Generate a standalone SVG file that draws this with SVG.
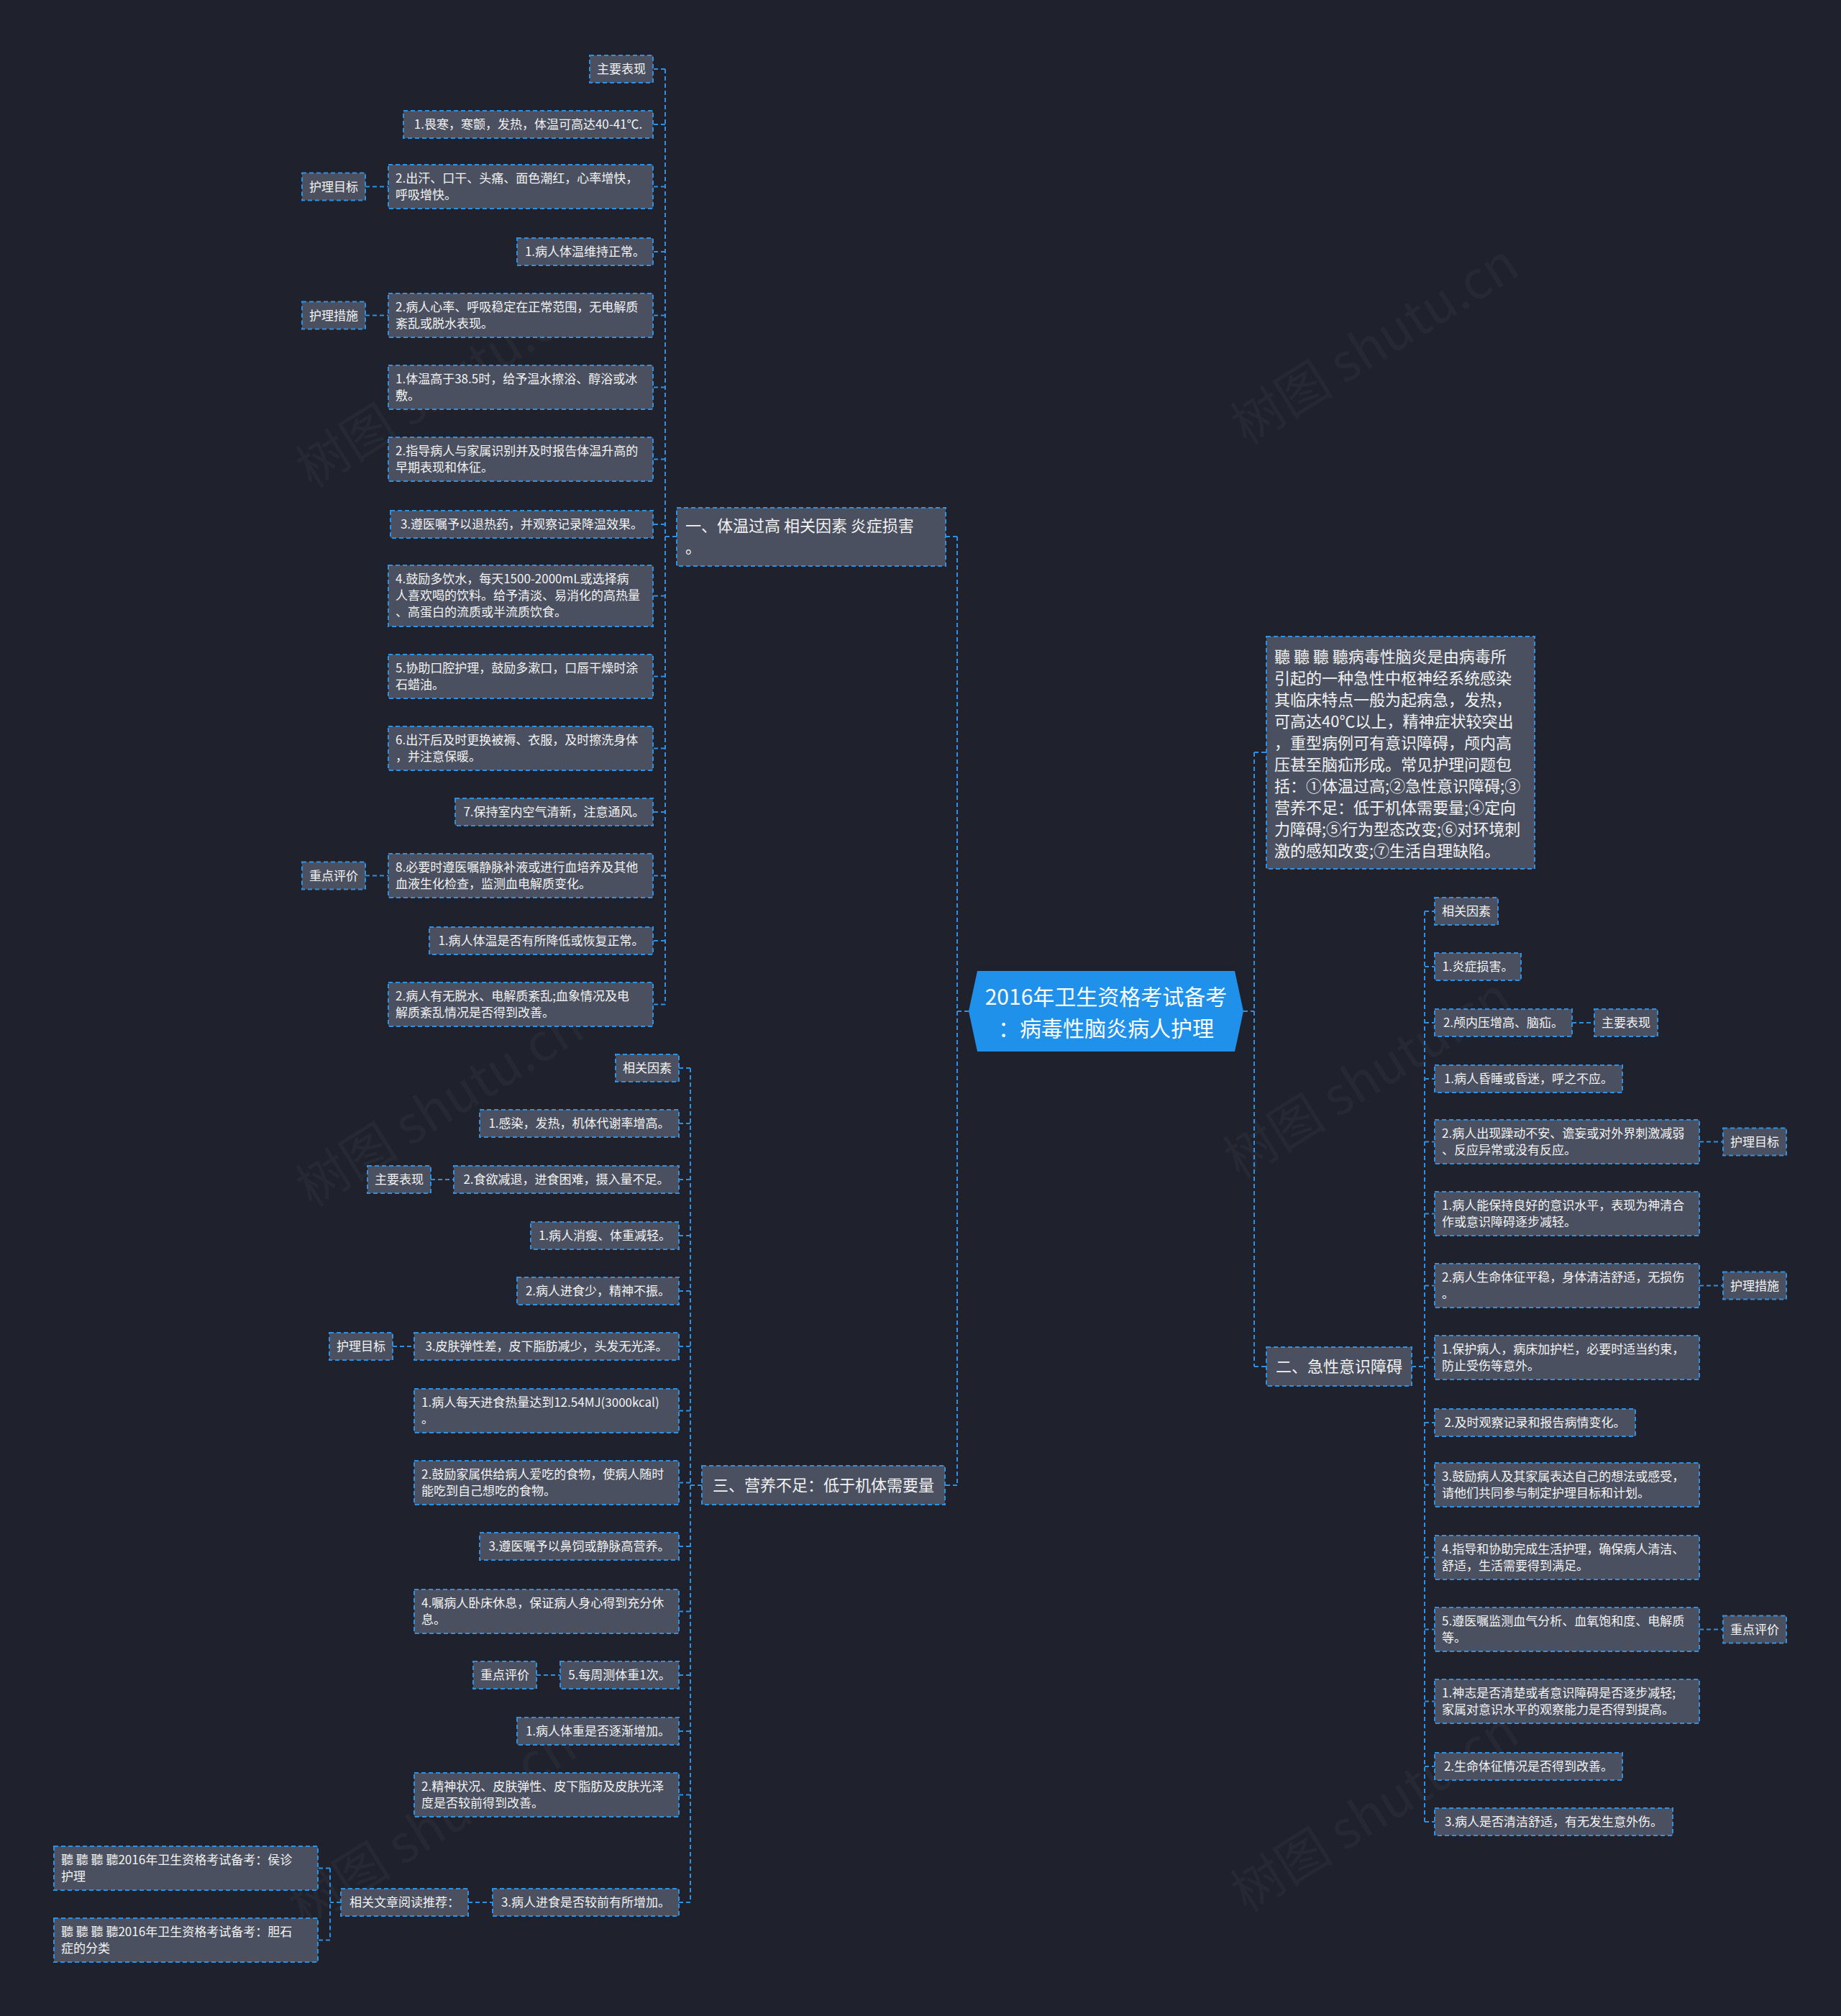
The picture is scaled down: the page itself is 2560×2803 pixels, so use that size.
<svg xmlns="http://www.w3.org/2000/svg" width="2560" height="2803" viewBox="0 0 2560 2803">
<style>
.bg{fill:#1f222c}
.box{fill:#4a5060;stroke:#2f8fe0;stroke-width:2;stroke-dasharray:6 4}
.t{font-family:"Noto Sans CJK SC","Noto Sans",sans-serif;font-size:17px;fill:#f2f2f2}
.m{text-anchor:middle}
.b{font-size:22px}
.c{font-family:"Noto Sans CJK SC","Noto Sans",sans-serif;font-size:30px;fill:#ffffff;text-anchor:middle}
.conn{fill:none;stroke:#2f8fe0;stroke-width:2;stroke-dasharray:6 4}
.wm{font-family:"Noto Sans CJK SC","Noto Sans",sans-serif;font-size:72px;fill:#ffffff;fill-opacity:0.035;text-anchor:middle}
</style>
<rect class="bg" x="0" y="0" width="2560" height="2803"/>
<g id="watermarks">
<text class="wm" transform="translate(625 560) rotate(-32)">树图 shutu.cn</text>
<text class="wm" transform="translate(1925 500) rotate(-32)">树图 shutu.cn</text>
<text class="wm" transform="translate(625 1560) rotate(-32)">树图 shutu.cn</text>
<text class="wm" transform="translate(1915 1520) rotate(-32)">树图 shutu.cn</text>
<text class="wm" transform="translate(615 2560) rotate(-32)">树图 shutu.cn</text>
<text class="wm" transform="translate(1925 2540) rotate(-32)">树图 shutu.cn</text>
</g>
<g id="connectors">
<path class="conn" d="M1347 1406H1331M1331 746V2065M1331 746H1315M1331 2065H1314"/>
<path class="conn" d="M1729 1406H1744M1744 1046V1900M1744 1046H1761M1744 1900H1761"/>
<path class="conn" d="M941 746H925M925 96V1396.5M925 96H908M925 173H908M925 259.5H908M925 350H908M925 438.5H908M925 538.5H908M925 638.5H908M925 729H908M925 828.5H908M925 940.5H908M925 1040.5H908M925 1129H908M925 1217.5H908M925 1308H908M925 1396.5H908"/>
<path class="conn" d="M508 259.5H540M508 438.5H540M508 1217.5H540"/>
<path class="conn" d="M1963 1900H1981M1981 1267V2533M1981 1267H1995M1981 1344H1995M1981 1422H1995M1981 1500H1995M1981 1587.5H1995M1981 1687.5H1995M1981 1787.5H1995M1981 1887.5H1995M1981 1978H1995M1981 2064.5H1995M1981 2165.5H1995M1981 2265.5H1995M1981 2365.5H1995M1981 2456H1995M1981 2533H1995"/>
<path class="conn" d="M2186 1422H2217M2363 1587.5H2396M2363 1787.5H2396M2363 2265.5H2396"/>
<path class="conn" d="M976 2065H960M960 1485V2645M960 1485H944M960 1562H944M960 1640H944M960 1718H944M960 1795H944M960 1872H944M960 1961.5H944M960 2061.5H944M960 2150H944M960 2240.5H944M960 2329H944M960 2407H944M960 2495.5H944M960 2645H944"/>
<path class="conn" d="M599 1640H631M546 1872H576M746 2329H779M651 2645H685M474 2645H459M459 2597.5V2697.5M459 2597.5H442M459 2697.5H442"/>
</g>
<g id="center">
<polygon points="1347,1406 1359,1350 1717,1350 1729,1406 1717,1462 1359,1462" fill="#2091ea"/>
<text class="c" x="1538" y="1397">2016年卫生资格考试备考</text>
<text class="c" x="1538" y="1441">：病毒性脑炎病人护理</text>
</g>
<g id="branch1">
<rect class="box" x="941" y="706" width="374" height="81"/>
<text class="t b" x="953" y="739">一、体温过高 相关因素 炎症损害</text>
<text class="t b" x="953" y="769">。</text>
</g>
<g id="branch2">
<rect class="box" x="1761" y="1873" width="202" height="54"/>
<text class="t b" x="1774" y="1908">二、急性意识障碍</text>
</g>
<g id="branch3">
<rect class="box" x="976" y="2038" width="338" height="54"/>
<text class="t b" x="991" y="2073">三、营养不足：低于机体需要量</text>
</g>
<g id="desc">
<rect class="box" x="1761" y="885" width="373" height="323"/>
<text class="t b" x="1772" y="921">聽 聽 聽 聽病毒性脑炎是由病毒所</text>
<text class="t b" x="1772" y="951">引起的一种急性中枢神经系统感染</text>
<text class="t b" x="1772" y="981">其临床特点一般为起病急，发热，</text>
<text class="t b" x="1772" y="1011">可高达40℃以上，精神症状较突出</text>
<text class="t b" x="1772" y="1041">，重型病例可有意识障碍，颅内高</text>
<text class="t b" x="1772" y="1071">压甚至脑疝形成。常见护理问题包</text>
<text class="t b" x="1772" y="1101">括：①体温过高;②急性意识障碍;③</text>
<text class="t b" x="1772" y="1131">营养不足：低于机体需要量;④定向</text>
<text class="t b" x="1772" y="1161">力障碍;⑤行为型态改变;⑥对环境刺</text>
<text class="t b" x="1772" y="1191">激的感知改变;⑦生活自理缺陷。</text>
</g>
<g id="n1_1"><rect class="box" x="820" y="77" width="88" height="38"/><text class="t m" x="864" y="102">主要表现</text></g>
<g id="n1_2"><rect class="box" x="561" y="154" width="347" height="38"/><text class="t m" x="734.5" y="179">1.畏寒，寒颤，发热，体温可高达40-41℃.</text></g>
<g id="n1_3"><rect class="box" x="540" y="229" width="368" height="61"/><text class="t" x="550" y="254">2.出汗、口干、头痛、面色潮红，心率增快，</text><text class="t" x="550" y="277">呼吸增快。</text></g>
<g id="n1_3l"><rect class="box" x="420" y="240.5" width="88" height="38"/><text class="t m" x="464" y="265.5">护理目标</text></g>
<g id="n1_4"><rect class="box" x="719" y="331" width="189" height="38"/><text class="t m" x="813.5" y="356">1.病人体温维持正常。</text></g>
<g id="n1_5"><rect class="box" x="540" y="408" width="368" height="61"/><text class="t" x="550" y="433">2.病人心率、呼吸稳定在正常范围，无电解质</text><text class="t" x="550" y="456">紊乱或脱水表现。</text></g>
<g id="n1_5l"><rect class="box" x="420" y="419.5" width="88" height="38"/><text class="t m" x="464" y="444.5">护理措施</text></g>
<g id="n1_6"><rect class="box" x="540" y="508" width="368" height="61"/><text class="t" x="550" y="533">1.体温高于38.5时，给予温水擦浴、醇浴或冰</text><text class="t" x="550" y="556">敷。</text></g>
<g id="n1_7"><rect class="box" x="540" y="608" width="368" height="61"/><text class="t" x="550" y="633">2.指导病人与家属识别并及时报告体温升高的</text><text class="t" x="550" y="656">早期表现和体征。</text></g>
<g id="n1_8"><rect class="box" x="543" y="710" width="365" height="38"/><text class="t m" x="725.5" y="735">3.遵医嘱予以退热药，并观察记录降温效果。</text></g>
<g id="n1_9"><rect class="box" x="540" y="786" width="368" height="85"/><text class="t" x="550" y="811">4.鼓励多饮水，每天1500-2000mL或选择病</text><text class="t" x="550" y="834">人喜欢喝的饮料。给予清淡、易消化的高热量</text><text class="t" x="550" y="857">、高蛋白的流质或半流质饮食。</text></g>
<g id="n1_10"><rect class="box" x="540" y="910" width="368" height="61"/><text class="t" x="550" y="935">5.协助口腔护理，鼓励多漱口，口唇干燥时涂</text><text class="t" x="550" y="958">石蜡油。</text></g>
<g id="n1_11"><rect class="box" x="540" y="1010" width="368" height="61"/><text class="t" x="550" y="1035">6.出汗后及时更换被褥、衣服，及时擦洗身体</text><text class="t" x="550" y="1058">，并注意保暖。</text></g>
<g id="n1_12"><rect class="box" x="633" y="1110" width="275" height="38"/><text class="t m" x="770.5" y="1135">7.保持室内空气清新，注意通风。</text></g>
<g id="n1_13"><rect class="box" x="540" y="1187" width="368" height="61"/><text class="t" x="550" y="1212">8.必要时遵医嘱静脉补液或进行血培养及其他</text><text class="t" x="550" y="1235">血液生化检查，监测血电解质变化。</text></g>
<g id="n1_13l"><rect class="box" x="420" y="1198.5" width="88" height="38"/><text class="t m" x="464" y="1223.5">重点评价</text></g>
<g id="n1_14"><rect class="box" x="597" y="1289" width="311" height="38"/><text class="t m" x="752.5" y="1314">1.病人体温是否有所降低或恢复正常。</text></g>
<g id="n1_15"><rect class="box" x="540" y="1366" width="368" height="61"/><text class="t" x="550" y="1391">2.病人有无脱水、电解质紊乱;血象情况及电</text><text class="t" x="550" y="1414">解质紊乱情况是否得到改善。</text></g>
<g id="n2_1"><rect class="box" x="1995" y="1248" width="88" height="38"/><text class="t m" x="2039" y="1273">相关因素</text></g>
<g id="n2_2"><rect class="box" x="1995" y="1325" width="120" height="38"/><text class="t m" x="2055" y="1350">1.炎症损害。</text></g>
<g id="n2_3"><rect class="box" x="1995" y="1403" width="191" height="38"/><text class="t m" x="2090.5" y="1428">2.颅内压增高、脑疝。</text></g>
<g id="n2_3l"><rect class="box" x="2217" y="1403" width="88" height="38"/><text class="t m" x="2261" y="1428">主要表现</text></g>
<g id="n2_4"><rect class="box" x="1995" y="1481" width="261" height="38"/><text class="t m" x="2125.5" y="1506">1.病人昏睡或昏迷，呼之不应。</text></g>
<g id="n2_5"><rect class="box" x="1995" y="1557" width="368" height="61"/><text class="t" x="2005" y="1582">2.病人出现躁动不安、谵妄或对外界刺激减弱</text><text class="t" x="2005" y="1605">、反应异常或没有反应。</text></g>
<g id="n2_5l"><rect class="box" x="2396" y="1568.5" width="88" height="38"/><text class="t m" x="2440" y="1593.5">护理目标</text></g>
<g id="n2_6"><rect class="box" x="1995" y="1657" width="368" height="61"/><text class="t" x="2005" y="1682">1.病人能保持良好的意识水平，表现为神清合</text><text class="t" x="2005" y="1705">作或意识障碍逐步减轻。</text></g>
<g id="n2_7"><rect class="box" x="1995" y="1757" width="368" height="61"/><text class="t" x="2005" y="1782">2.病人生命体征平稳，身体清洁舒适，无损伤</text><text class="t" x="2005" y="1805">。</text></g>
<g id="n2_7l"><rect class="box" x="2396" y="1768.5" width="88" height="38"/><text class="t m" x="2440" y="1793.5">护理措施</text></g>
<g id="n2_8"><rect class="box" x="1995" y="1857" width="368" height="61"/><text class="t" x="2005" y="1882">1.保护病人，病床加护栏，必要时适当约束，</text><text class="t" x="2005" y="1905">防止受伤等意外。</text></g>
<g id="n2_9"><rect class="box" x="1995" y="1959" width="279" height="38"/><text class="t m" x="2134.5" y="1984">2.及时观察记录和报告病情变化。</text></g>
<g id="n2_10"><rect class="box" x="1995" y="2034" width="368" height="61"/><text class="t" x="2005" y="2059">3.鼓励病人及其家属表达自己的想法或感受，</text><text class="t" x="2005" y="2082">请他们共同参与制定护理目标和计划。</text></g>
<g id="n2_11"><rect class="box" x="1995" y="2135" width="368" height="61"/><text class="t" x="2005" y="2160">4.指导和协助完成生活护理，确保病人清洁、</text><text class="t" x="2005" y="2183">舒适，生活需要得到满足。</text></g>
<g id="n2_12"><rect class="box" x="1995" y="2235" width="368" height="61"/><text class="t" x="2005" y="2260">5.遵医嘱监测血气分析、血氧饱和度、电解质</text><text class="t" x="2005" y="2283">等。</text></g>
<g id="n2_12l"><rect class="box" x="2396" y="2246.5" width="88" height="38"/><text class="t m" x="2440" y="2271.5">重点评价</text></g>
<g id="n2_13"><rect class="box" x="1995" y="2335" width="368" height="61"/><text class="t" x="2005" y="2360">1.神志是否清楚或者意识障碍是否逐步减轻;</text><text class="t" x="2005" y="2383">家属对意识水平的观察能力是否得到提高。</text></g>
<g id="n2_14"><rect class="box" x="1995" y="2437" width="261" height="38"/><text class="t m" x="2125.5" y="2462">2.生命体征情况是否得到改善。</text></g>
<g id="n2_15"><rect class="box" x="1995" y="2514" width="331" height="38"/><text class="t m" x="2160.5" y="2539">3.病人是否清洁舒适，有无发生意外伤。</text></g>
<g id="n3_1"><rect class="box" x="856" y="1466" width="88" height="38"/><text class="t m" x="900" y="1491">相关因素</text></g>
<g id="n3_2"><rect class="box" x="667" y="1543" width="277" height="38"/><text class="t m" x="805.5" y="1568">1.感染，发热，机体代谢率增高。</text></g>
<g id="n3_3"><rect class="box" x="631" y="1621" width="313" height="38"/><text class="t m" x="787.5" y="1646">2.食欲减退，进食困难，摄入量不足。</text></g>
<g id="n3_3l"><rect class="box" x="511" y="1621" width="88" height="38"/><text class="t m" x="555" y="1646">主要表现</text></g>
<g id="n3_4"><rect class="box" x="738" y="1699" width="206" height="38"/><text class="t m" x="841" y="1724">1.病人消瘦、体重减轻。</text></g>
<g id="n3_5"><rect class="box" x="719" y="1776" width="225" height="38"/><text class="t m" x="831.5" y="1801">2.病人进食少，精神不振。</text></g>
<g id="n3_6"><rect class="box" x="576" y="1853" width="368" height="38"/><text class="t m" x="760" y="1878">3.皮肤弹性差，皮下脂肪减少，头发无光泽。</text></g>
<g id="n3_6l"><rect class="box" x="458" y="1853" width="88" height="38"/><text class="t m" x="502" y="1878">护理目标</text></g>
<g id="n3_7"><rect class="box" x="576" y="1931" width="368" height="61"/><text class="t" x="586" y="1956">1.病人每天进食热量达到12.54MJ(3000kcal)</text><text class="t" x="586" y="1979">。</text></g>
<g id="n3_8"><rect class="box" x="576" y="2031" width="368" height="61"/><text class="t" x="586" y="2056">2.鼓励家属供给病人爱吃的食物，使病人随时</text><text class="t" x="586" y="2079">能吃到自己想吃的食物。</text></g>
<g id="n3_9"><rect class="box" x="667" y="2131" width="277" height="38"/><text class="t m" x="805.5" y="2156">3.遵医嘱予以鼻饲或静脉高营养。</text></g>
<g id="n3_10"><rect class="box" x="576" y="2210" width="368" height="61"/><text class="t" x="586" y="2235">4.嘱病人卧床休息，保证病人身心得到充分休</text><text class="t" x="586" y="2258">息。</text></g>
<g id="n3_11"><rect class="box" x="779" y="2310" width="165" height="38"/><text class="t m" x="861.5" y="2335">5.每周测体重1次。</text></g>
<g id="n3_11l"><rect class="box" x="658" y="2310" width="88" height="38"/><text class="t m" x="702" y="2335">重点评价</text></g>
<g id="n3_12"><rect class="box" x="719" y="2388" width="225" height="38"/><text class="t m" x="831.5" y="2413">1.病人体重是否逐渐增加。</text></g>
<g id="n3_13"><rect class="box" x="576" y="2465" width="368" height="61"/><text class="t" x="586" y="2490">2.精神状况、皮肤弹性、皮下脂肪及皮肤光泽</text><text class="t" x="586" y="2513">度是否较前得到改善。</text></g>
<g id="n3_14"><rect class="box" x="685" y="2626" width="259" height="38"/><text class="t m" x="814.5" y="2651">3.病人进食是否较前有所增加。</text></g>
<g id="n3_14l"><rect class="box" x="474" y="2626" width="177" height="38"/><text class="t m" x="562.5" y="2651">相关文章阅读推荐：</text></g>
<g id="art1"><rect class="box" x="75" y="2567" width="367" height="61"/><text class="t" x="85" y="2592">聽 聽 聽 聽2016年卫生资格考试备考：侯诊</text><text class="t" x="85" y="2615">护理</text></g>
<g id="art2"><rect class="box" x="75" y="2667" width="367" height="61"/><text class="t" x="85" y="2692">聽 聽 聽 聽2016年卫生资格考试备考：胆石</text><text class="t" x="85" y="2715">症的分类</text></g>
</svg>
